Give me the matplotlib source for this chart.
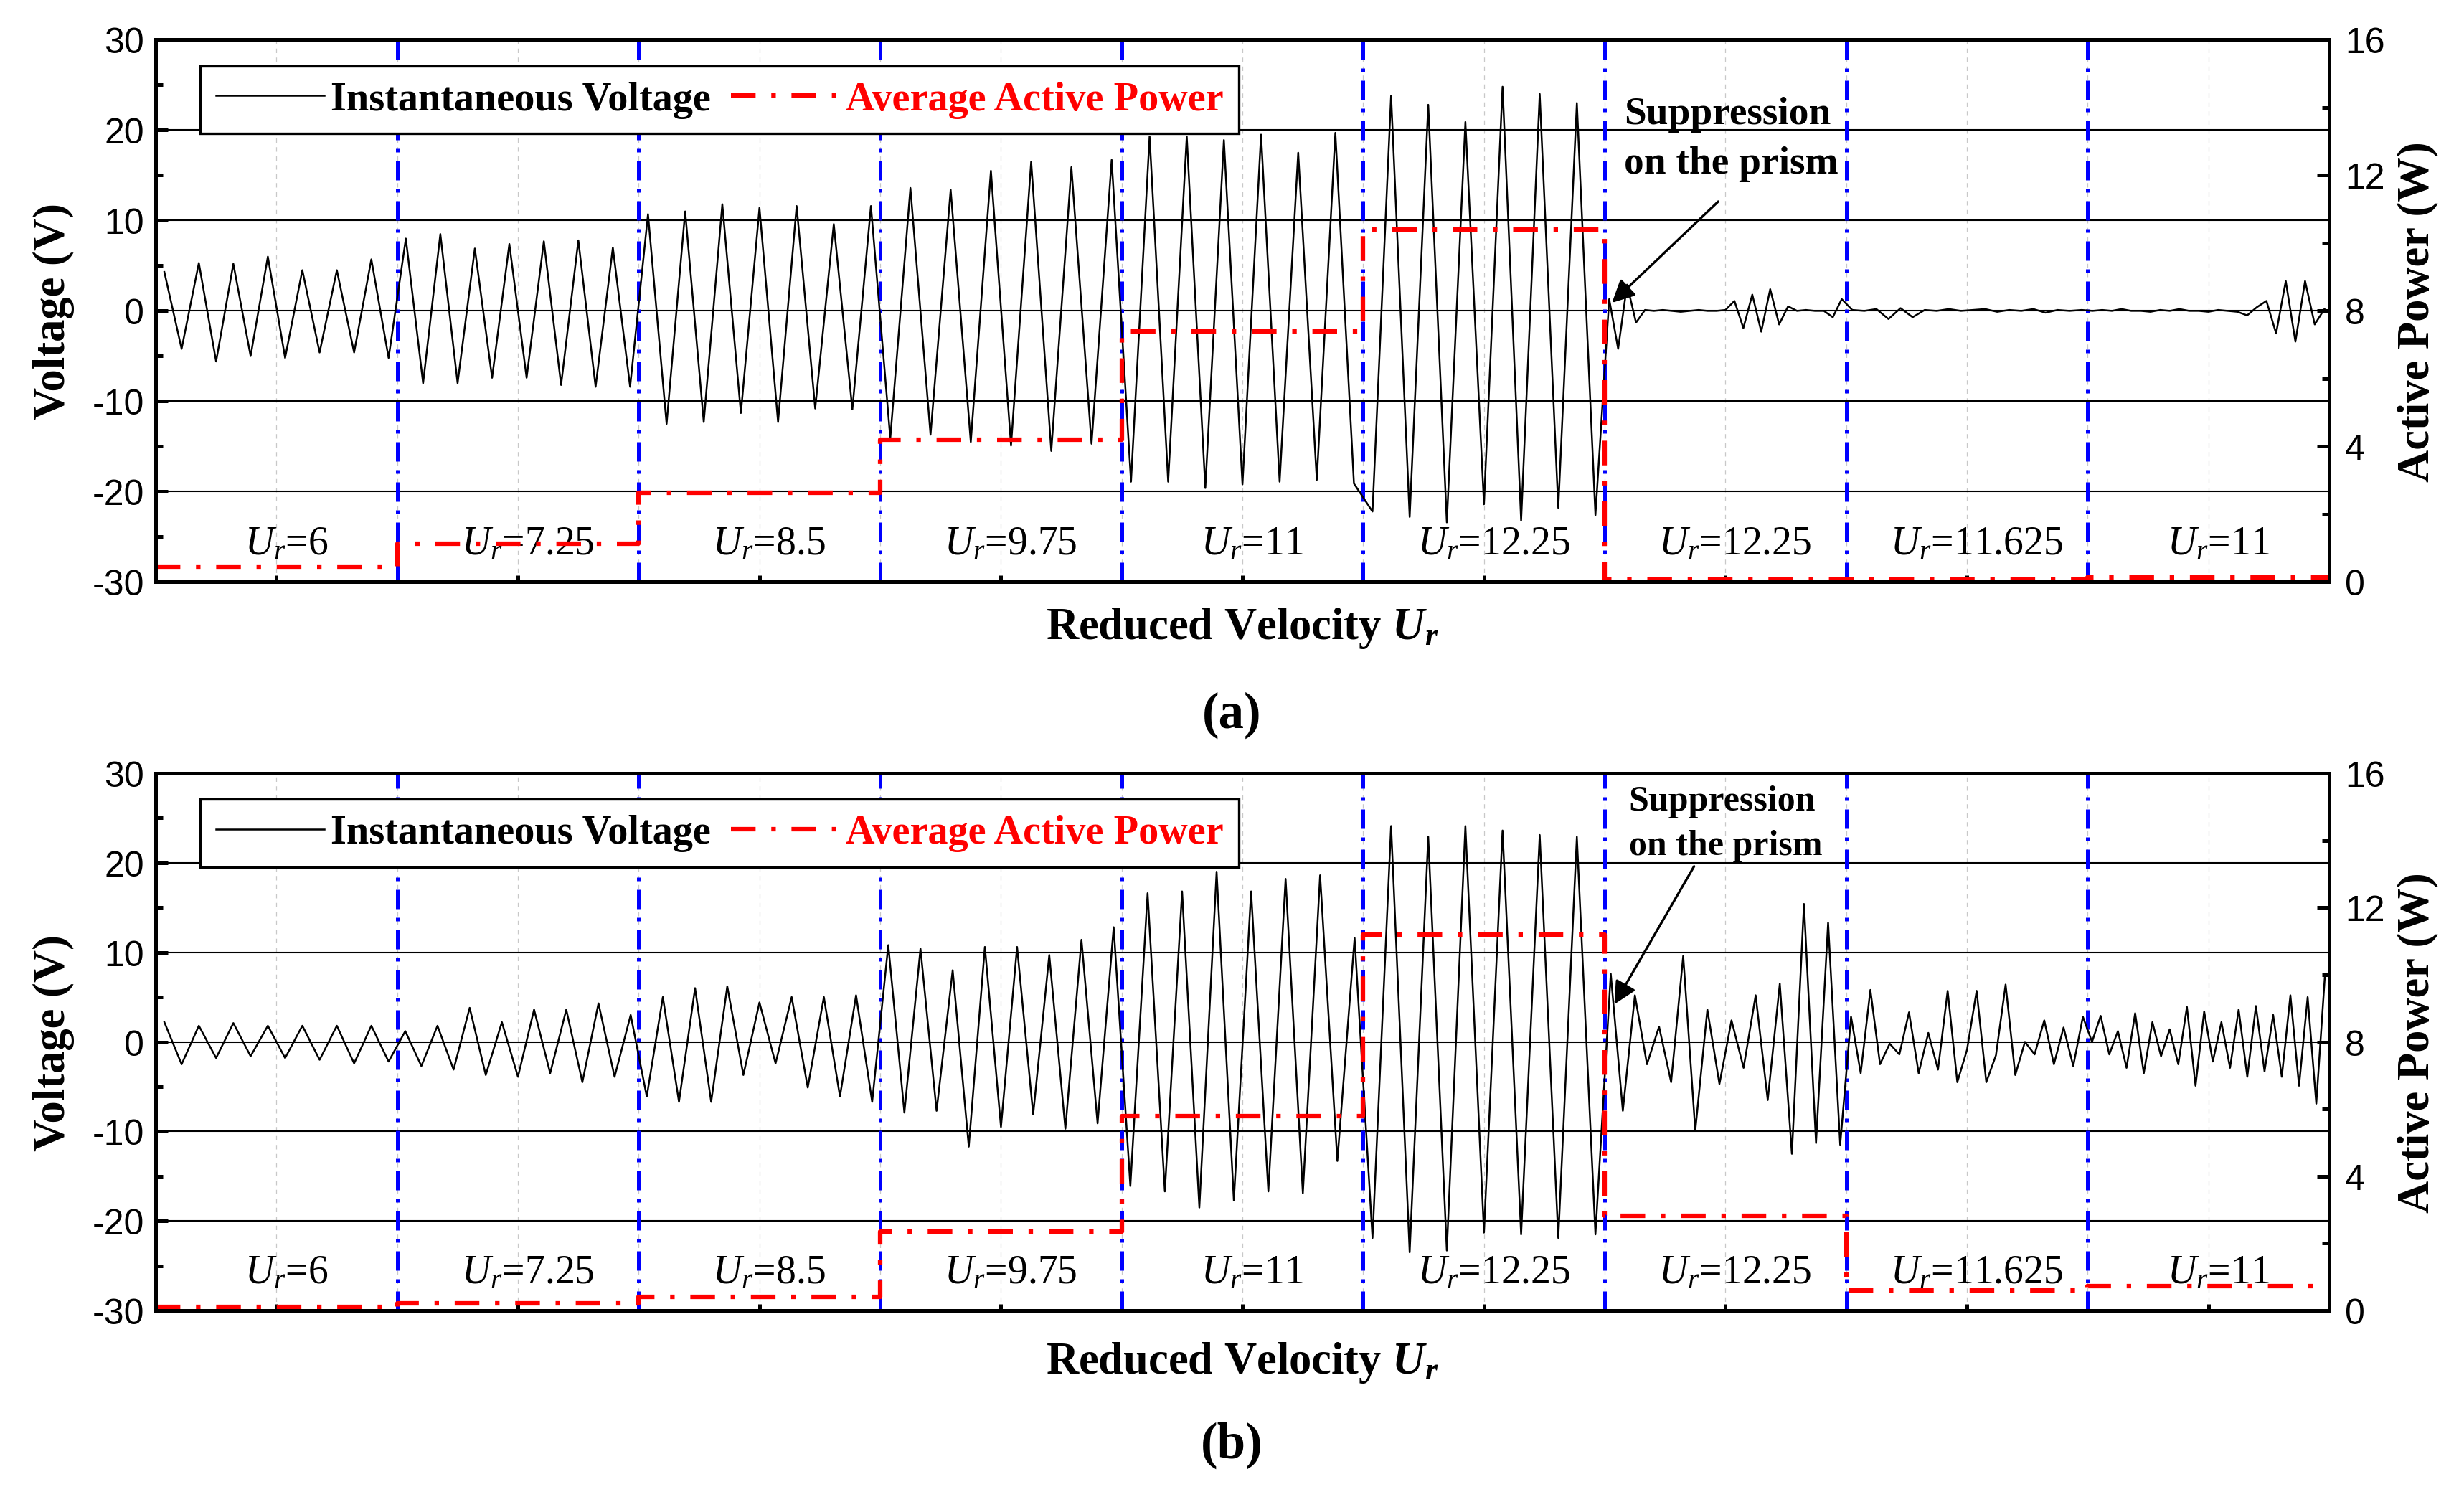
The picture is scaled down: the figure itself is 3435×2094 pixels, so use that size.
import numpy as np
import matplotlib.pyplot as plt

plt.rcParams['font.family'] = 'Liberation Serif'
plt.rcParams['mathtext.fontset'] = 'custom'
plt.rcParams['mathtext.rm'] = 'Liberation Serif'
plt.rcParams['mathtext.it'] = 'Liberation Serif:italic'
plt.rcParams['mathtext.bf'] = 'Liberation Serif:bold'
plt.rcParams['mathtext.bfit'] = 'Liberation Serif:italic:bold'
plt.rcParams['axes.unicode_minus'] = False

# reduced velocity of each test segment (left to right)
ur_values = ['6', '7.25', '8.5', '9.75', '11', '12.25', '12.25', '11.625', '11']

# successive peak / trough voltages (V), one list per segment
volt_a = [
    [4.3, -4.2, 5.3, -5.6, 5.2, -5.0, 6.0, -5.2, 4.5, -4.6, 4.5, -4.6, 5.7, -5.2],
    [8.0, -8.0, 8.5, -8.0, 6.9, -7.4, 7.4, -7.4, 7.7, -8.2, 7.8, -8.4, 7.0, -8.4],
    [10.7, -12.5, 11.0, -12.3, 11.8, -11.3, 11.4, -12.3, 11.6, -10.8, 9.6, -10.9, 11.6],
    [-14.1, 13.6, -13.7, 13.4, -14.5, 15.5, -14.9, 16.5, -15.5, 15.9, -14.7, 16.7],
    [-18.9, 19.3, -18.9, 19.3, -19.6, 18.9, -19.2, 19.5, -18.9, 17.5, -18.7, 19.7, -19.1],
    [-22.2, 23.8, -22.8, 22.8, -23.4, 20.9, -21.4, 24.8, -23.2, 24.0, -21.8, 23.0, -22.6],
    [1.3, -4.2, 2.9, -1.3, 0.1, 0.0, 0.1, 0.0, -0.1, 0.0, 0.1, 0.0, 0.0, 0.1,
     1.1, -1.9, 1.8, -2.3, 2.4, -1.5, 0.5, 0.0, 0.1, 0.0, 0.0, -0.7, 1.3],
    [0.1, 0.0, 0.2, -0.9, 0.3, -0.7, 0.1, 0.0, 0.2, 0.0, 0.1, 0.2, -0.1, 0.1,
     0.0, 0.2, -0.2, 0.1, 0.0, 0.1],
    [0.0, 0.1, 0.0, 0.2, 0.0, 0.0, -0.1, 0.1, 0.0, 0.2, 0.0, 0.0, -0.1, 0.1, 0.0,
     -0.1, -0.5, 0.4, 1.1, -2.5, 3.3, -3.4, 3.3, -1.5, 0.2],
]
# average active power per segment (W)
power_a = [0.45, 1.13, 2.64, 4.2, 7.4, 10.4, 0.08, 0.08, 0.13]

volt_b = [
    [2.2, -2.5, 1.8, -1.8, 2.1, -1.6, 1.8, -1.8, 1.8, -2.0, 1.8, -2.4, 1.8, -2.2],
    [1.2, -2.7, 1.8, -3.1, 3.8, -3.7, 2.2, -3.9, 3.6, -3.5, 3.6, -4.5, 4.3, -3.9, 3.0],
    [-6.1, 5.0, -6.7, 6.0, -6.7, 6.2, -3.7, 4.4, -2.4, 5.0, -5.1, 5.0, -6.1, 5.2, -6.7],
    [10.8, -7.9, 10.4, -7.7, 8.0, -11.7, 10.6, -9.5, 10.6, -8.1, 9.7, -9.7, 11.4, -9.1, 12.8],
    [-16.1, 16.6, -16.7, 16.8, -18.5, 19.0, -17.7, 16.8, -16.7, 18.2, -16.9, 18.6, -13.3, 11.6],
    [-21.9, 24.1, -23.5, 22.9, -23.3, 24.1, -21.3, 23.6, -21.5, 23.1, -21.9, 22.9, -21.5],
    [7.6, -7.7, 5.2, -2.5, 1.7, -4.5, 9.6, -9.9, 3.6, -4.7, 2.4, -2.9, 5.2, -6.5,
     6.5, -12.5, 15.4, -11.3, 13.3, -11.5],
    [2.8, -3.5, 5.8, -2.5, -0.2, -1.4, 3.3, -3.5, 1.0, -3.1, 5.7, -4.5, -0.9, 5.7,
     -4.5, -1.5, 6.4, -3.7, 0.0, -1.4, 2.4, -2.5, 1.6, -2.7, 2.8],
    [0.0, 2.9, -1.4, 1.2, -2.9, 3.2, -3.5, 2.2, -1.6, 1.4, -2.5, 3.9, -4.9, 3.4,
     -2.2, 2.2, -2.9, 3.6, -3.9, 4.0, -3.3, 3.0, -3.9, 5.2, -4.9, 5.0, -6.9, 7.4],
]
power_b = [0.1, 0.21, 0.4, 2.35, 5.8, 11.2, 2.83, 0.59, 0.72]


def trace(segments):
    # place the readings of each segment evenly inside it
    x, y = [], []
    for i, seg in enumerate(segments):
        n = len(seg)
        x.extend(i + (np.arange(n) + 0.5) / n)
        y.extend(seg)
    return np.array(x), np.array(y)


def draw_panel(ax, volt, power, note_pos, note_size, note_spacing, arrow_tip, arrow_tail):
    x, y = trace(volt)
    line_v, = ax.plot(x, y, color='k', lw=0.6, zorder=3, label='Instantaneous Voltage')

    for b in range(1, len(ur_values)):
        ax.axvline(b, color='#0000ff', lw=1.2, ls=(0, (5.4, 2.4, 1, 2.4)), zorder=2)

    ax.set_xlim(0, len(ur_values))
    ax.set_ylim(-30, 30)
    ax.set_xticks(np.arange(0, len(ur_values) + 0.01, 0.5))
    ax.tick_params(axis='x', which='both', direction='in', length=2.2, width=1.2,
                   labelbottom=False)
    ax.set_yticks(np.arange(-30, 31, 10))
    ax.set_yticklabels([str(v) for v in range(-30, 31, 10)],
                       fontfamily='Liberation Sans', fontsize=12)
    ax.set_yticks(np.arange(-25, 30, 10), minor=True)
    ax.tick_params(axis='y', which='major', direction='in', length=4, width=1.2, pad=3.8)
    ax.tick_params(axis='y', which='minor', direction='in', length=2.5, width=1.2)

    ax.set_axisbelow(True)
    ax.yaxis.grid(True, color='k', lw=0.5)
    ax.xaxis.grid(True, color='#c8c8c8', lw=0.3, ls=(0, (5, 5)))

    for s in ax.spines.values():
        s.set_linewidth(1.2)

    ax.set_ylabel('Voltage (V)', fontsize=15, fontweight='bold')
    ax.yaxis.set_label_coords(-0.0373, 0.5)
    ax.set_xlabel(r'Reduced Velocity $\mathbfit{U_r}$', fontsize=15, fontweight='bold')

    for i, u in enumerate(ur_values):
        ax.text(i + 0.54, -26.9, r'$U_r$=' + u, ha='center', va='baseline', fontsize=13.4)

    ax.text(note_pos[0], note_pos[1], 'Suppression\non the prism', ha='left', va='center',
            fontsize=note_size, fontweight='bold', linespacing=note_spacing)
    ax.annotate('', xy=arrow_tip, xytext=arrow_tail,
                arrowprops=dict(arrowstyle='-|>', color='k', lw=0.8, mutation_scale=16,
                                shrinkA=0, shrinkB=0))

    # average power on the right axis
    ax2 = ax.twinx()
    px = np.repeat(np.arange(len(power) + 1), 2)[1:-1]
    py = np.repeat(power, 2)
    line_p, = ax2.plot(px, py, color='#ff0000', lw=1.5, ls=(0, (5.5, 3.5, 1, 3.5)),
                       label='Average Active Power')
    ax2.set_ylim(0, 16)
    ax2.set_yticks(np.arange(0, 17, 4))
    ax2.set_yticklabels([str(v) for v in range(0, 17, 4)],
                        fontfamily='Liberation Sans', fontsize=12)
    ax2.set_yticks(np.arange(2, 16, 4), minor=True)
    ax2.tick_params(axis='y', which='major', direction='in', length=4, width=1.2, pad=5.3)
    ax2.tick_params(axis='y', which='minor', direction='in', length=2.5, width=1.2)
    for s in ax2.spines.values():
        s.set_linewidth(1.2)
    ax2.set_ylabel('Active Power (W)', fontsize=15, fontweight='bold')
    ax2.yaxis.set_label_coords(1.031, 0.5)

    leg = ax2.legend([line_v, line_p], ['Instantaneous Voltage', 'Average Active Power'],
                     ncol=2, loc='upper left', bbox_to_anchor=(0.0205, 0.952),
                     frameon=True, fancybox=False, edgecolor='k', framealpha=1,
                     borderpad=0.38, borderaxespad=0, handlelength=2.7,
                     handletextpad=0.15, columnspacing=0.5,
                     prop=dict(family='Liberation Serif', weight='bold', size=13.5),
                     labelcolor=['black', '#ff0000'])
    leg.get_frame().set_linewidth(0.8)
    return ax2


fig = plt.figure(figsize=(11.45, 6.9833), dpi=300)

ax_a = fig.add_axes([0.0632, 0.6122, 0.8821, 0.3609])
draw_panel(ax_a, volt_a, power_a, (6.08, 19.0), 13.3, 1.5, (6.03, 0.9), (6.47, 12.1))
ax_a.xaxis.set_label_coords(0.5, -0.043)

ax_b = fig.add_axes([0.0632, 0.1274, 0.8821, 0.3576])
draw_panel(ax_b, volt_b, power_b, (6.10, 24.4), 12, 1.45, (6.04, 4.2), (6.37, 19.6))
ax_b.xaxis.set_label_coords(0.5, -0.055)

fig.text(0.5, 1 - 997 / 2095, '(a)', fontsize=17, fontweight='bold', ha='center', va='center')
fig.text(0.5, 1 - 2015 / 2095, '(b)', fontsize=17, fontweight='bold', ha='center', va='center')

fig.savefig('out.png', dpi=300)
